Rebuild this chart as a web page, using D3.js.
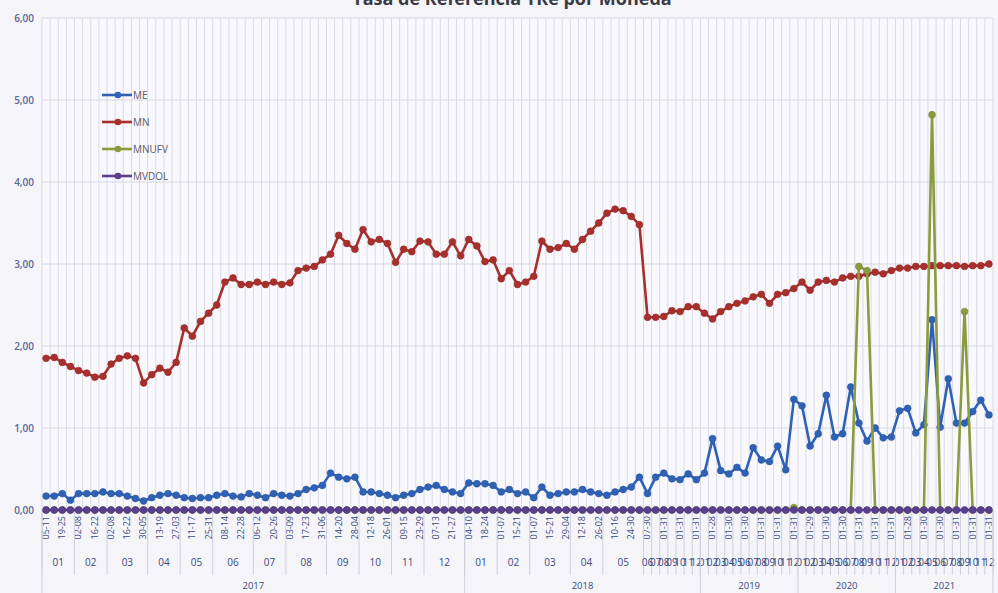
<!DOCTYPE html>
<html>
<head>
<meta charset="utf-8">
<script src="https://cdn.jsdelivr.net/npm/d3@7"></script>
<style>
  html, body { margin: 0; padding: 0; background: #f4f4f9; }
  svg { display: block; }
  text { font-family: "Open Sans", "Liberation Sans", sans-serif; }
</style>
</head>
<body>
<svg id="chart" width="998" height="593"></svg>
<script>
// Period labels (weekly ranges through May 2018, monthly afterwards)
const dayLabels = [
  "05-11","12-18","19-25","26-01","02-08","09-15","16-22","23-01","02-08","09-15",
  "16-22","23-29","30-05","06-12","13-19","20-26","27-03","04-10","11-17","18-24",
  "25-31","01-07","08-14","15-21","22-28","29-05","06-12","13-19","20-26","27-02",
  "03-09","10-16","17-23","24-30","31-06","07-13","14-20","21-27","28-04","05-11",
  "12-18","19-25","26-01","02-08","09-15","16-22","23-29","30-06","07-13","14-20",
  "21-27","28-03",
  "04-10","11-17","18-24","25-31","01-07","08-14","15-21","22-28","01-07","08-14",
  "15-21","22-28","29-04","05-11","12-18","19-25","26-02","03-09","10-16","17-23",
  "24-30","31-06","07-30","01-31","01-31","01-30","01-31","01-30","01-31",
  "01-31","01-28","01-31","01-30","01-31","01-30","01-31","01-31","01-30","01-31","01-30","01-31",
  "01-31","01-29","01-31","01-30","01-31","01-30","01-31","01-31","01-30","01-31","01-30","01-31",
  "01-31","01-28","01-31","01-30","01-31","01-30","01-31","01-31","01-30","01-31","01-30","01-31"
];

// Month groups: label and number of periods in each
const monthLabels = [
  "01","02","03","04","05","06","07","08","09","10","11","12",
  "01","02","03","04","05","06","07","08","09","10","11","12",
  "01","02","03","04","05","06","07","08","09","10","11","12",
  "01","02","03","04","05","06","07","08","09","10","11","12",
  "01","02","03","04","05","06","07","08","09","10","11","12"
];
const monthSpans = [
  4,4,5,4,4,5,4,5,4,4,4,5,
  4,4,5,4,5,1,1,1,1,1,1,1,
  1,1,1,1,1,1,1,1,1,1,1,1,
  1,1,1,1,1,1,1,1,1,1,1,1,
  1,1,1,1,1,1,1,1,1,1,1,1
];
const yearLabels = ["2017","2018","2019","2020","2021"];
const yearSpans = [52, 29, 12, 12, 12];

const yTicks = [0, 1, 2, 3, 4, 5, 6];

// Series values
const meValues = [
  0.17,0.17,0.20,0.12,0.20,0.20,0.20,0.22,0.20,0.20,
  0.17,0.14,0.11,0.15,0.18,0.20,0.18,0.15,0.14,0.15,
  0.15,0.18,0.20,0.17,0.16,0.20,0.18,0.15,0.20,0.18,
  0.17,0.20,0.25,0.27,0.30,0.45,0.40,0.38,0.40,0.22,
  0.22,0.20,0.18,0.15,0.18,0.20,0.25,0.28,0.30,0.25,
  0.22,0.20,0.33,0.32,0.32,0.30,0.22,0.25,0.20,0.22,
  0.15,0.28,0.18,0.20,0.22,0.22,0.25,0.22,0.20,0.18,
  0.22,0.25,0.28,0.40,0.20,0.40,0.45,0.38,0.37,0.44,
  0.37,0.45,0.87,0.48,0.44,0.52,0.45,0.76,0.61,0.59,
  0.78,0.49,1.35,1.27,0.78,0.93,1.40,0.89,0.93,1.50,
  1.06,0.84,1.00,0.88,0.89,1.21,1.24,0.94,1.04,2.32,
  1.01,1.60,1.06,1.06,1.20,1.34,1.16
];
const mnValues = [
  1.85,1.86,1.80,1.75,1.70,1.67,1.62,1.63,1.78,1.85,
  1.88,1.85,1.55,1.65,1.73,1.68,1.80,2.22,2.12,2.30,
  2.40,2.50,2.78,2.83,2.75,2.75,2.78,2.75,2.78,2.75,
  2.77,2.92,2.95,2.97,3.05,3.12,3.35,3.25,3.18,3.42,
  3.27,3.30,3.25,3.02,3.18,3.15,3.28,3.27,3.12,3.12,
  3.27,3.10,3.30,3.22,3.03,3.05,2.82,2.92,2.75,2.78,
  2.85,3.28,3.18,3.20,3.25,3.18,3.30,3.40,3.50,3.62,
  3.67,3.65,3.58,3.48,2.35,2.35,2.36,2.43,2.42,2.48,
  2.48,2.40,2.33,2.42,2.48,2.52,2.55,2.60,2.63,2.52,
  2.63,2.65,2.70,2.78,2.68,2.78,2.80,2.78,2.83,2.85,
  2.85,2.88,2.90,2.88,2.92,2.95,2.95,2.97,2.97,2.98,
  2.98,2.98,2.98,2.97,2.98,2.98,3.00
];
const mnufvValues = [
  0,0,0,0,0,0,0,0,0,0, 0,0,0,0,0,0,0,0,0,0,
  0,0,0,0,0,0,0,0,0,0, 0,0,0,0,0,0,0,0,0,0,
  0,0,0,0,0,0,0,0,0,0, 0,0,0,0,0,0,0,0,0,0,
  0,0,0,0,0,0,0,0,0,0, 0,0,0,0,0,0,0,0,0,0,
  0,0,0,0,0,0,0,0,0,0, 0,0,0.03,0,0,0,0,0,0,0,
  2.97,2.92,0,0,0,0,0,0,0,4.82,
  0,0,0,2.42,0,0,0
];
const mvdolValues = dayLabels.map(() => 0);

const seriesNames = ["ME", "MN", "MNUFV", "MVDOL"];
const seriesColors = ["#2f62b5", "#a8302c", "#8a9c3c", "#5b3f8e"];
const seriesValues = [meValues, mnValues, mnufvValues, mvdolValues];

// ---- layout ----
const svg = d3.select("#chart");
const W = 998, H = 593;
const plot = { left: 42, right: 993, top: 18, bottom: 510 };

const idx = d3.range(dayLabels.length);
const x = d3.scaleBand().domain(idx).range([plot.left, plot.right]).padding(0);
const y = d3.scaleLinear().domain([0, 6]).range([plot.bottom, plot.top]);
const bw = x.bandwidth();
const cx = i => x(i) + bw / 2;

// background
svg.append("rect").attr("width", W).attr("height", H).attr("fill", "#f4f4f9");
svg.append("rect")
  .attr("x", plot.left).attr("y", plot.top)
  .attr("width", plot.right - plot.left).attr("height", plot.bottom - plot.top)
  .attr("fill", "#f9f9fd");

// title (sits mostly above the top edge)
svg.append("text")
  .attr("x", 512).attr("y", 5)
  .attr("text-anchor", "middle")
  .attr("font-size", 18).attr("font-weight", 700)
  .attr("fill", "#3a3a46")
  .text("Tasa de Referencia TRe por Moneda");

// vertical gridlines, one per period boundary
const grid = svg.append("g");
grid.selectAll("line.v")
  .data(d3.range(dayLabels.length + 1))
  .join("line")
  .attr("x1", i => plot.left + i * bw).attr("x2", i => plot.left + i * bw)
  .attr("y1", plot.top).attr("y2", plot.bottom)
  .attr("stroke", "#dadae6").attr("stroke-width", 1);

// horizontal gridlines
grid.selectAll("line.h")
  .data(yTicks)
  .join("line")
  .attr("x1", plot.left).attr("x2", plot.right)
  .attr("y1", d => y(d)).attr("y2", d => y(d))
  .attr("stroke", "#d6d6e2").attr("stroke-width", 1);

// y axis labels
const yAxis = d3.axisLeft(y).tickValues(yTicks)
  .tickFormat(d => d3.format(".2f")(d).replace(".", ","))
  .tickSize(0).tickPadding(8);
svg.append("g").attr("transform", `translate(${plot.left},0)`).call(yAxis)
  .call(g => g.select(".domain").remove())
  .call(g => g.selectAll("text")
    .attr("font-size", 10).attr("font-weight", 600).attr("fill", "#5a6896"));

// x axis: first level, rotated period labels on every other period
const xAxis = d3.axisBottom(x)
  .tickValues(idx.filter(i => i % 2 === 0))
  .tickFormat(i => dayLabels[i])
  .tickSize(0).tickPadding(0);
svg.append("g").attr("transform", `translate(0,${plot.bottom})`).call(xAxis)
  .call(g => g.select(".domain").attr("stroke", "#c8c8d6"))
  .call(g => g.selectAll("text")
    .attr("transform", "rotate(-90)")
    .attr("x", -6).attr("y", 0).attr("dy", "0.32em")
    .attr("text-anchor", "end")
    .attr("font-size", 9).attr("fill", "#3c4a7c"));

// month and year group rows
const labelColor = "#3c4a7c";
const sepColor = "#cfd0dc";
let start = 0;
const monthStarts = monthSpans.map(s => { const v = start; start += s; return v; });
start = 0;
const yearStarts = yearSpans.map(s => { const v = start; start += s; return v; });

const axisG = svg.append("g");
axisG.selectAll("line.msep")
  .data(monthStarts.concat([dayLabels.length]))
  .join("line")
  .attr("x1", i => plot.left + i * bw).attr("x2", i => plot.left + i * bw)
  .attr("y1", plot.bottom).attr("y2", 575)
  .attr("stroke", sepColor).attr("stroke-width", 1);
axisG.selectAll("text.month")
  .data(monthLabels)
  .join("text")
  .attr("x", (d, k) => plot.left + (monthStarts[k] + monthSpans[k] / 2) * bw)
  .attr("y", 566)
  .attr("text-anchor", "middle")
  .attr("font-size", 10).attr("fill", labelColor)
  .text(d => d);

axisG.selectAll("line.ysep")
  .data(yearStarts.concat([dayLabels.length]))
  .join("line")
  .attr("x1", i => plot.left + i * bw).attr("x2", i => plot.left + i * bw)
  .attr("y1", plot.bottom).attr("y2", H)
  .attr("stroke", sepColor).attr("stroke-width", 1);
axisG.selectAll("text.year")
  .data(yearLabels)
  .join("text")
  .attr("x", (d, k) => plot.left + (yearStarts[k] + yearSpans[k] / 2) * bw)
  .attr("y", 589)
  .attr("text-anchor", "middle")
  .attr("font-size", 9.5).attr("fill", labelColor)
  .text(d => d);

// series lines with markers
const line = d3.line().x((d, i) => cx(i)).y(d => y(d));
seriesValues.forEach((vals, s) => {
  const g = svg.append("g");
  g.append("path")
    .datum(vals)
    .attr("d", line)
    .attr("fill", "none")
    .attr("stroke", seriesColors[s])
    .attr("stroke-width", 2.6)
    .attr("stroke-linejoin", "round");
  g.selectAll("circle")
    .data(vals)
    .join("circle")
    .attr("cx", (d, i) => cx(i))
    .attr("cy", d => y(d))
    .attr("r", 3.4)
    .attr("fill", seriesColors[s])
    .attr("stroke", d3.color(seriesColors[s]).darker(0.4))
    .attr("stroke-width", 0.6);
});

// legend
const legend = svg.append("g");
seriesNames.forEach((name, s) => {
  const ly = 95 + s * 27;
  legend.append("line")
    .attr("x1", 102).attr("x2", 132).attr("y1", ly).attr("y2", ly)
    .attr("stroke", seriesColors[s]).attr("stroke-width", 2.6);
  legend.append("circle")
    .attr("cx", 118).attr("cy", ly).attr("r", 3.3)
    .attr("fill", seriesColors[s]);
  legend.append("text")
    .attr("x", 133).attr("y", ly).attr("dy", "0.35em")
    .attr("font-size", 10).attr("fill", "#5a5a66")
    .text(name);
});
</script>
</body>
</html>
